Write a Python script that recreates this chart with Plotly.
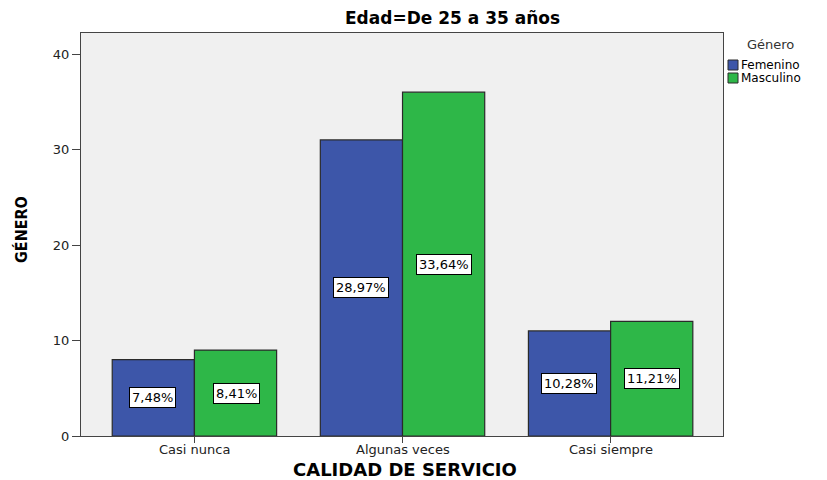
import plotly.graph_objects as go

categories = ["Casi nunca", "Algunas veces", "Casi siempre"]
femenino = [8, 31, 11]
masculino = [9, 36, 12]
fem_pct = ["7,48%", "28,97%", "10,28%"]
mas_pct = ["8,41%", "33,64%", "11,21%"]
y_ticks = [0, 10, 20, 30, 40]
series_names = ["Femenino", "Masculino"]

blue = "#3D56A9"
green = "#2EB748"
font = "DejaVu Sans, Liberation Sans, sans-serif"
L, R, T, B, W, H = 81, 104, 33, 44, 827, 480
PW, PH = W - L - R, H - T - B

def px(x):
    return (x - L) / PW

def py(y):
    return (H - B - y) / PH

fig = go.Figure()
fig.add_trace(go.Bar(x=categories, y=femenino, name=series_names[0],
                     marker=dict(color=blue, line=dict(color="#2a2a2a", width=1.2))))
fig.add_trace(go.Bar(x=categories, y=masculino, name=series_names[1],
                     marker=dict(color=green, line=dict(color="#2a2a2a", width=1.2))))

for i, c in enumerate(categories):
    for vals, labs, off in ((femenino, fem_pct, -0.2), (masculino, mas_pct, 0.2)):
        fig.add_annotation(x=i + off, y=vals[i] / 2, xref="x", yref="y", text=labs[i], showarrow=False,
                           bgcolor="white", bordercolor="black", borderwidth=1, borderpad=2,
                           font=dict(family=font, size=13, color="black"))
    # category tick labels (placed as in the reference, close to the axis)
    fig.add_annotation(x=c, y=py(449), xref="x", yref="paper", text=c, showarrow=False,
                       xanchor="center", yanchor="middle", font=dict(family=font, size=13, color="#222"))

# title
fig.add_annotation(x=px(453), y=py(18), xref="paper", yref="paper", text="<b>Edad=De 25 a 35 años</b>",
                   showarrow=False, xanchor="center", yanchor="middle",
                   font=dict(family=font, size=17, color="black"))
# axis titles
fig.add_annotation(x=px(405), y=py(470), xref="paper", yref="paper", text="<b>CALIDAD DE SERVICIO</b>",
                   showarrow=False, xanchor="center", yanchor="middle",
                   font=dict(family=font, size=18, color="black"))
fig.add_annotation(x=px(22), y=py(230), xref="paper", yref="paper", text="<b>GÉNERO</b>", textangle=-90,
                   showarrow=False, xanchor="center", yanchor="middle",
                   font=dict(family="Liberation Sans Narrow, DejaVu Sans Condensed, sans-serif", size=16, color="black"))

# legend (drawn manually to match compact spacing)
fig.add_annotation(x=px(745), y=py(45), xref="paper", yref="paper", text="Género", showarrow=False,
                   xanchor="left", yanchor="middle", font=dict(family=font, size=13, color="#333"))
for j, (nm, col) in enumerate(zip(series_names, [blue, green])):
    yc = 65 + j * 13
    fig.add_shape(type="rect", xref="paper", yref="paper", x0=px(728), x1=px(738), y0=py(yc - 5), y1=py(yc + 5),
                  fillcolor=col, line=dict(color="#2a2a2a", width=1))
    fig.add_annotation(x=px(739), y=py(yc), xref="paper", yref="paper", text=nm, showarrow=False,
                       xanchor="left", yanchor="middle", font=dict(family=font, size=12, color="black"))

fig.update_layout(
    width=W, height=H,
    margin=dict(l=L, r=R, t=T, b=B, autoexpand=False),
    paper_bgcolor="white", plot_bgcolor="#F0F0F0",
    barmode="group", bargap=0.21, bargroupgap=0,
    font=dict(family=font, size=12, color="black"),
    showlegend=False,
    xaxis=dict(range=[-0.545, 2.54], showline=True, linecolor="#444", linewidth=1, mirror=True,
               ticks="outside", ticklen=6, tickcolor="#444", automargin=False, showticklabels=False),
    yaxis=dict(range=[0, 42.2], tickvals=y_ticks, showgrid=False, zeroline=False,
               showline=True, linecolor="#444", linewidth=1, mirror=True, automargin=False,
               ticks="outside", ticklen=8, tickcolor="#444",
               tickfont=dict(family=font, size=13, color="#222")),
)

fig.write_html("out.html", config={"displayModeBar": False},
               post_script="document.body.style.margin='0';document.body.style.overflow='hidden';")
